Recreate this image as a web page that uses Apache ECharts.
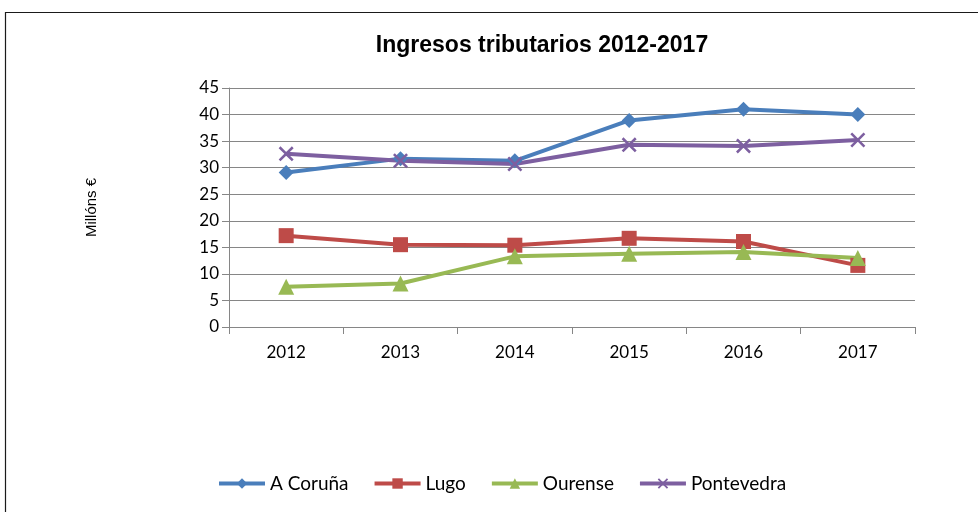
<!DOCTYPE html>
<html>
<head>
<meta charset="utf-8">
<script src="https://cdn.jsdelivr.net/npm/echarts@6/dist/echarts.min.js"></script>
<style>
  html, body { margin: 0; padding: 0; background: #fff; }
  #chart { width: 978px; height: 512px; }
</style>
</head>
<body>
<div id="chart"></div>
<script>
// data
const years = ['2012', '2013', '2014', '2015', '2016', '2017']
const coruna = [29.1, 31.7, 31.3, 38.9, 41.0, 40.0]
const lugo = [17.2, 15.5, 15.4, 16.7, 16.1, 11.6]
const ourense = [7.6, 8.2, 13.3, 13.8, 14.1, 13.0]
const pontevedra = [32.6, 31.3, 30.7, 34.3, 34.1, 35.2]

const xMark = 'path://M0,1.2 L1.2,0 L5,3.8 L8.8,0 L10,1.2 L6.2,5 L10,8.8 L8.8,10 L5,6.2 L1.2,10 L0,8.8 L3.8,5 Z'

let chartsInstance = echarts.init(document.getElementById('chart'), null, { renderer: 'canvas' })

function mkSeries(name, data, color, symbol, size) {
  return {
    name: name,
    type: 'line',
    data: data,
    symbol: symbol,
    symbolSize: size,
    color: color,
    lineStyle: { width: 4, color: color },
    itemStyle: { color: color },
    emphasis: { disabled: true },
    animation: false
  }
}

let option = {
  textStyle: { fontFamily: 'Liberation Sans, Arial, sans-serif' },
  graphic: [
    {
      type: 'rect',
      shape: { x: 5.5, y: 12.5, width: 990, height: 520 },
      style: { fill: 'none', stroke: '#1a1a1a', lineWidth: 1.2 },
      silent: true
    }
  ],
  title: {
    text: 'Ingresos tributarios 2012-2017',
    left: 537,
    textAlign: 'center',
    top: 29,
    textStyle: { fontSize: 23, fontWeight: 'bold', color: '#000', fontFamily: 'Liberation Sans, Arial, sans-serif' }
  },
  legend: {
    bottom: 14,
    left: 212,
    itemWidth: 46,
    itemHeight: 13,
    itemGap: 24,
    lineStyle: { width: 4 },
    textStyle: { fontSize: 19, color: '#000', fontFamily: 'Lato, Liberation Sans, sans-serif' },
    data: ['A Coruña', 'Lugo', 'Ourense', 'Pontevedra']
  },
  grid: {
    left: 229,
    right: 63,
    top: 88,
    bottom: 185,
    containLabel: false
  },
  xAxis: {
    type: 'category',
    data: years,
    boundaryGap: true,
    axisLine: { lineStyle: { color: '#868686', width: 1 } },
    axisTick: { show: true, length: 7, lineStyle: { color: '#868686' } },
    axisLabel: { color: '#000', fontSize: 17, margin: 17, fontFamily: 'Lato, Liberation Sans, sans-serif' }
  },
  yAxis: {
    type: 'value',
    min: 0,
    max: 45,
    interval: 5,
    name: 'Millóns €',
    nameLocation: 'middle',
    nameRotate: 90,
    nameGap: 130,
    nameTextStyle: { fontSize: 15, color: '#000' },
    axisLine: { show: true, lineStyle: { color: '#868686', width: 1 } },
    axisTick: { show: true, length: 7, lineStyle: { color: '#868686' } },
    axisLabel: { color: '#000', fontSize: 17, margin: 10, fontFamily: 'Lato, Liberation Sans, sans-serif' },
    splitLine: { lineStyle: { color: '#868686', width: 1 } }
  },
  series: [
    mkSeries('A Coruña', coruna, '#4A7EBB', 'diamond', 15),
    mkSeries('Lugo', lugo, '#BE4B48', 'rect', 15),
    mkSeries('Ourense', ourense, '#98B954', 'triangle', 16),
    mkSeries('Pontevedra', pontevedra, '#7D5FA0', xMark, 15)
  ]
}

chartsInstance.setOption(option)
</script>
</body>
</html>
